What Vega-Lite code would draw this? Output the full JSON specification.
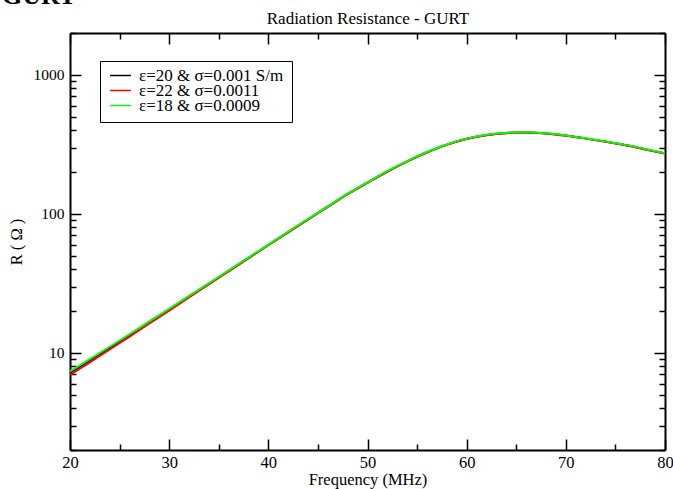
{
  "$schema": "https://vega.github.io/schema/vega-lite/v6.json",
  "autosize": "none",
  "width": 595,
  "height": 417,
  "padding": {"left": 70, "top": 33, "right": 8, "bottom": 39},
  "background": "white",
  "config": {
    "view": {"stroke": null},
    "font": "Liberation Serif",
    "axis": {
      "domainColor": "black", "domainWidth": 2, "tickColor": "black", "tickWidth": 1.5,
      "labelFont": "Liberation Serif", "labelFontSize": 16.5, "labelColor": "black",
      "titleFont": "Liberation Serif", "titleFontWeight": "normal", "titleColor": "black", "titleFontSize": 16.5,
      "grid": false
    }
  },
  "title": {"text": "GURT", "anchor": "start", "font": "Liberation Serif", "fontSize": 26, "fontWeight": "bold", "color": "black", "baseline": "alphabetic", "dx": -6, "dy": 25},
  "data": {"values": [
    {"f":20,"R":7.19,"s":"ε=20 & σ=0.001 S/m"},{"f":22,"R":8.83,"s":"ε=20 & σ=0.001 S/m"},{"f":24,"R":10.86,"s":"ε=20 & σ=0.001 S/m"},{"f":26,"R":13.40,"s":"ε=20 & σ=0.001 S/m"},{"f":28,"R":16.60,"s":"ε=20 & σ=0.001 S/m"},{"f":30,"R":20.51,"s":"ε=20 & σ=0.001 S/m"},{"f":32,"R":25.41,"s":"ε=20 & σ=0.001 S/m"},{"f":34,"R":31.41,"s":"ε=20 & σ=0.001 S/m"},{"f":36,"R":38.90,"s":"ε=20 & σ=0.001 S/m"},{"f":38,"R":48.19,"s":"ε=20 & σ=0.001 S/m"},{"f":40,"R":59.70,"s":"ε=20 & σ=0.001 S/m"},{"f":42,"R":73.96,"s":"ε=20 & σ=0.001 S/m"},{"f":44,"R":91.41,"s":"ε=20 & σ=0.001 S/m"},{"f":46,"R":112.7,"s":"ε=20 & σ=0.001 S/m"},{"f":48,"R":139.0,"s":"ε=20 & σ=0.001 S/m"},{"f":50,"R":167.9,"s":"ε=20 & σ=0.001 S/m"},{"f":52,"R":201.8,"s":"ε=20 & σ=0.001 S/m"},{"f":54,"R":238.8,"s":"ε=20 & σ=0.001 S/m"},{"f":56,"R":277.3,"s":"ε=20 & σ=0.001 S/m"},{"f":58,"R":314.8,"s":"ε=20 & σ=0.001 S/m"},{"f":60,"R":346.7,"s":"ε=20 & σ=0.001 S/m"},{"f":62,"R":369.0,"s":"ε=20 & σ=0.001 S/m"},{"f":64,"R":382.0,"s":"ε=20 & σ=0.001 S/m"},{"f":66,"R":385.5,"s":"ε=20 & σ=0.001 S/m"},{"f":68,"R":378.4,"s":"ε=20 & σ=0.001 S/m"},{"f":70,"R":365.6,"s":"ε=20 & σ=0.001 S/m"},{"f":72,"R":349.1,"s":"ε=20 & σ=0.001 S/m"},{"f":74,"R":331.1,"s":"ε=20 & σ=0.001 S/m"},{"f":76,"R":312.6,"s":"ε=20 & σ=0.001 S/m"},{"f":78,"R":291.7,"s":"ε=20 & σ=0.001 S/m"},{"f":80,"R":272.3,"s":"ε=20 & σ=0.001 S/m"},
    {"f":20,"R":6.93,"s":"ε=22 & σ=0.0011"},{"f":22,"R":8.55,"s":"ε=22 & σ=0.0011"},{"f":24,"R":10.57,"s":"ε=22 & σ=0.0011"},{"f":26,"R":13.09,"s":"ε=22 & σ=0.0011"},{"f":28,"R":16.25,"s":"ε=22 & σ=0.0011"},{"f":30,"R":20.14,"s":"ε=22 & σ=0.0011"},{"f":32,"R":25.05,"s":"ε=22 & σ=0.0011"},{"f":34,"R":31.06,"s":"ε=22 & σ=0.0011"},{"f":36,"R":38.55,"s":"ε=22 & σ=0.0011"},{"f":38,"R":47.85,"s":"ε=22 & σ=0.0011"},{"f":40,"R":59.40,"s":"ε=22 & σ=0.0011"},{"f":42,"R":73.59,"s":"ε=22 & σ=0.0011"},{"f":44,"R":90.95,"s":"ε=22 & σ=0.0011"},{"f":46,"R":112.1,"s":"ε=22 & σ=0.0011"},{"f":48,"R":138.3,"s":"ε=22 & σ=0.0011"},{"f":50,"R":167.1,"s":"ε=22 & σ=0.0011"},{"f":52,"R":200.8,"s":"ε=22 & σ=0.0011"},{"f":54,"R":237.6,"s":"ε=22 & σ=0.0011"},{"f":56,"R":275.9,"s":"ε=22 & σ=0.0011"},{"f":58,"R":313.2,"s":"ε=22 & σ=0.0011"},{"f":60,"R":345.0,"s":"ε=22 & σ=0.0011"},{"f":62,"R":367.5,"s":"ε=22 & σ=0.0011"},{"f":64,"R":380.5,"s":"ε=22 & σ=0.0011"},{"f":66,"R":384.3,"s":"ε=22 & σ=0.0011"},{"f":68,"R":377.3,"s":"ε=22 & σ=0.0011"},{"f":70,"R":364.1,"s":"ε=22 & σ=0.0011"},{"f":72,"R":347.7,"s":"ε=22 & σ=0.0011"},{"f":74,"R":329.8,"s":"ε=22 & σ=0.0011"},{"f":76,"R":311.3,"s":"ε=22 & σ=0.0011"},{"f":78,"R":290.5,"s":"ε=22 & σ=0.0011"},{"f":80,"R":271.2,"s":"ε=22 & σ=0.0011"},
    {"f":20,"R":7.36,"s":"ε=18 & σ=0.0009"},{"f":22,"R":9.02,"s":"ε=18 & σ=0.0009"},{"f":24,"R":11.06,"s":"ε=18 & σ=0.0009"},{"f":26,"R":13.61,"s":"ε=18 & σ=0.0009"},{"f":28,"R":16.83,"s":"ε=18 & σ=0.0009"},{"f":30,"R":20.76,"s":"ε=18 & σ=0.0009"},{"f":32,"R":25.66,"s":"ε=18 & σ=0.0009"},{"f":34,"R":31.66,"s":"ε=18 & σ=0.0009"},{"f":36,"R":39.17,"s":"ε=18 & σ=0.0009"},{"f":38,"R":48.48,"s":"ε=18 & σ=0.0009"},{"f":40,"R":60.00,"s":"ε=18 & σ=0.0009"},{"f":42,"R":74.33,"s":"ε=18 & σ=0.0009"},{"f":44,"R":91.87,"s":"ε=18 & σ=0.0009"},{"f":46,"R":113.3,"s":"ε=18 & σ=0.0009"},{"f":48,"R":139.7,"s":"ε=18 & σ=0.0009"},{"f":50,"R":168.6,"s":"ε=18 & σ=0.0009"},{"f":52,"R":202.6,"s":"ε=18 & σ=0.0009"},{"f":54,"R":239.8,"s":"ε=18 & σ=0.0009"},{"f":56,"R":278.4,"s":"ε=18 & σ=0.0009"},{"f":58,"R":315.7,"s":"ε=18 & σ=0.0009"},{"f":60,"R":347.7,"s":"ε=18 & σ=0.0009"},{"f":62,"R":370.1,"s":"ε=18 & σ=0.0009"},{"f":64,"R":383.1,"s":"ε=18 & σ=0.0009"},{"f":66,"R":386.7,"s":"ε=18 & σ=0.0009"},{"f":68,"R":379.5,"s":"ε=18 & σ=0.0009"},{"f":70,"R":366.7,"s":"ε=18 & σ=0.0009"},{"f":72,"R":350.1,"s":"ε=18 & σ=0.0009"},{"f":74,"R":332.1,"s":"ε=18 & σ=0.0009"},{"f":76,"R":313.5,"s":"ε=18 & σ=0.0009"},{"f":78,"R":292.6,"s":"ε=18 & σ=0.0009"},{"f":80,"R":273.1,"s":"ε=18 & σ=0.0009"}
  ]},
  "layer": [
    {
      "transform": [{"filter": "datum.s != 'ε=18 & σ=0.0009'"}],
      "mark": {"type": "line", "strokeWidth": 2, "interpolate": "monotone", "clip": true},
      "encoding": {
        "x": {"field": "f", "type": "quantitative", "scale": {"domain": [20, 80], "nice": false, "zero": false},
          "axis": {"orient": "bottom", "title": "Frequency (MHz)", "values": [20,25,30,35,40,45,50,55,60,65,70,75,80],
            "labelExpr": "datum.value % 10 == 0 ? datum.label : ''", "labelFlush": false, "labelOverlap": false,
            "tickSize": {"condition": {"test": "datum.value % 10 == 0", "value": -11}, "value": -6},
            "labelPadding": 15, "titlePadding": -4}},
        "y": {"field": "R", "type": "quantitative", "scale": {"type": "log", "domain": [2, 2000], "nice": false},
          "axis": {"orient": "left", "title": "R ( Ω )", "format": "d", "labelFontSize": 15.5,
            "values": [2,3,4,5,6,7,8,9,10,20,30,40,50,60,70,80,90,100,200,300,400,500,600,700,800,900,1000,2000],
            "labelExpr": "indexof([10,100,1000], datum.value) >= 0 ? datum.label : ''", "labelOverlap": false, "labelFlush": false,
            "tickSize": {"condition": {"test": "indexof([10,100,1000], datum.value) >= 0", "value": -11}, "value": -6},
            "labelPadding": 17, "titlePadding": 9}},
        "color": {"field": "s", "type": "nominal",
          "scale": {"domain": ["ε=20 & σ=0.001 S/m", "ε=22 & σ=0.0011", "ε=18 & σ=0.0009"], "range": ["#000000", "#ff0000", "#00ff00"]},
          "legend": {"title": null, "orient": "none", "legendX": 30, "legendY": 28, "strokeColor": "black", "fillColor": "white",
            "padding": 8, "symbolType": "M-1.6,0H1.6", "symbolSize": 169, "symbolStrokeWidth": 1.5, "symbolOffset": 4, "labelFont": "Liberation Serif",
            "labelFontSize": 17, "labelColor": "black", "rowPadding": -4, "clipHeight": 13, "labelOffset": 10, "labelLimit": 300}}
      }
    },
    {
      "transform": [{"filter": "datum.s == 'ε=18 & σ=0.0009'"}],
      "mark": {"type": "line", "strokeWidth": 2, "interpolate": "monotone", "clip": true},
      "encoding": {
        "x": {"field": "f", "type": "quantitative",
          "axis": {"orient": "top", "title": "Radiation Resistance - GURT", "titleFontSize": 17, "values": [20,25,30,35,40,45,50,55,60,65,70,75,80],
            "labels": false,
            "tickSize": {"condition": {"test": "datum.value % 10 == 0", "value": -11}, "value": -6},
            "titlePadding": 5}},
        "y": {"field": "R", "type": "quantitative",
          "axis": {"orient": "right", "title": null,
            "values": [2,3,4,5,6,7,8,9,10,20,30,40,50,60,70,80,90,100,200,300,400,500,600,700,800,900,1000,2000],
            "labels": false,
            "tickSize": {"condition": {"test": "indexof([10,100,1000], datum.value) >= 0", "value": -11}, "value": -6}}},
        "color": {"field": "s", "type": "nominal"}
      }
    }
  ],
  "resolve": {"scale": {"x": "shared", "y": "shared", "color": "shared"}, "axis": {"x": "independent", "y": "independent"}}
}
